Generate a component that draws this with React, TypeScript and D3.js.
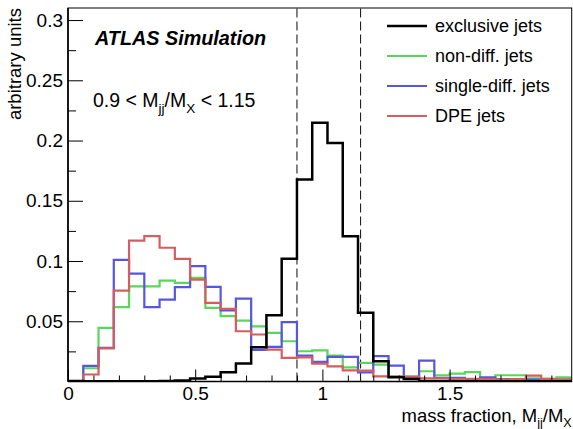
import React, { useEffect, useRef } from 'react';
import * as d3 from 'd3';

// 33 bins of width 0.06 from 0 to 1.98
const binWidth = 0.06;
const exclusiveJets = [
  0.0004, 0.0003, 0.0003, 0.0003, 0.0003, 0.0003, 0.0005, 0.0008, 0.0025, 0.0039,
  0.0077, 0.015, 0.0284, 0.055, 0.1018, 0.1677, 0.2148, 0.198, 0.1206, 0.057,
  0.0168, 0.0035, 0.002, 0.0005, 0.0005, 0.0003, 0.0003, 0.0003, 0.0003, 0.0003,
  0.0003, 0.0003, 0.0003,
];
const nonDiffJets = [
  0, 0.011, 0.0445, 0.0617, 0.079, 0.079, 0.0838, 0.0819, 0.086, 0.0611,
  0.0542, 0.0506, 0.0458, 0.0403, 0.0334, 0.0251, 0.0259, 0.0215, 0.0118, 0.0154,
  0.014, 0.0043, 0.004, 0.0085, 0.0052, 0.0066, 0.0077, 0.0027, 0.0052, 0.0052,
  0.0027, 0.0024, 0.0035,
];
const singleDiffJets = [
  0, 0.013, 0.028, 0.101, 0.0896, 0.0617, 0.068, 0.0783, 0.0957, 0.0786,
  0.0591, 0.0688, 0.0262, 0.0287, 0.0492, 0.0215, 0.0163, 0.0204, 0.0204, 0.0075,
  0.021, 0.0132, 0.003, 0.0174, 0.003, 0.003, 0.002, 0.0035, 0.002, 0.002,
  0.0015, 0.0015, 0.0015,
];
const dpeJets = [
  0, 0.0058, 0.0275, 0.0755, 0.117, 0.1206, 0.111, 0.1018, 0.0846, 0.0653,
  0.0603, 0.0417, 0.039, 0.0265, 0.0196, 0.0201, 0.0149, 0.0126, 0.0093, 0.009,
  0.0043, 0.004, 0.004, 0.0027, 0.0027, 0.002, 0.0023, 0.002, 0.0015, 0.002,
  0.0049, 0.002, 0.0015,
];

const xTicks = [0, 0.5, 1, 1.5];
const yTicks = [0.05, 0.1, 0.15, 0.2, 0.25, 0.3];
const cuts = [0.9, 1.15];

const series = [
  { name: 'exclusive jets', values: exclusiveJets, color: '#000000', width: 2.5 },
  { name: 'non-diff. jets', values: nonDiffJets, color: '#5ad65a', width: 2.2 },
  { name: 'single-diff. jets', values: singleDiffJets, color: '#5656e0', width: 2.2 },
  { name: 'DPE jets', values: dpeJets, color: '#d65c5f', width: 2.2 },
];

const FONT = "'Liberation Sans', Arial, Helvetica, sans-serif";

export default function App() {
  const ref = useRef<SVGSVGElement>(null);

  useEffect(() => {
    const svg = d3.select(ref.current);
    svg.selectAll('*').remove();

    const left = 68, right = 571.7, top = 8, bottom = 381.5;
    const nBins = exclusiveJets.length;

    const x = d3.scaleLinear().domain([0, nBins * binWidth]).range([left, right]);
    const y = d3.scaleLinear().domain([0, 0.31]).range([bottom, top]);

    svg.append('defs').append('clipPath').attr('id', 'plot-clip')
      .append('rect')
      .attr('x', left).attr('y', top)
      .attr('width', right - left).attr('height', bottom - top);

    // dashed cut lines
    svg.selectAll('.cut').data(cuts).enter().append('line')
      .attr('class', 'cut')
      .attr('x1', d => x(d)).attr('x2', d => x(d))
      .attr('y1', bottom).attr('y2', top)
      .attr('stroke', '#222')
      .attr('stroke-width', 1.1)
      .attr('stroke-dasharray', '9,4');

    // histograms, drawn so black ends up on top
    const line = d3.line<[number, number]>()
      .x(d => x(d[0]))
      .y(d => y(d[1]))
      .curve(d3.curveStepAfter);

    const drawOrder = [series[1], series[2], series[3], series[0]];
    drawOrder.forEach(s => {
      const pts: [number, number][] = s.values.map((v, i) => [i * binWidth, v]);
      pts.push([nBins * binWidth, s.values[nBins - 1]]);
      svg.append('path')
        .attr('d', line(pts))
        .attr('fill', 'none')
        .attr('stroke', s.color)
        .attr('stroke-width', s.width)
        .attr('stroke-linejoin', 'miter')
        .attr('clip-path', 'url(#plot-clip)');
    });

    // axes: minor + major ticks pointing inward
    const minorX = d3.range(1, 20).map(i => i / 10).filter(v => Math.abs(v * 2 - Math.round(v * 2)) > 1e-6);
    const minorY = d3.range(0, 12).map(i => 0.025 + i * 0.05);

    const styleAxis = (g: any) => {
      g.select('.domain').remove();
      g.selectAll('line').attr('stroke', '#000').attr('stroke-width', 1);
      g.selectAll('text').attr('font-family', FONT).attr('font-size', 19).attr('fill', '#000');
    };

    svg.append('g').attr('transform', `translate(0,${bottom})`)
      .call(d3.axisBottom(x).tickValues(minorX).tickSize(-6).tickFormat(() => ''))
      .call(styleAxis);
    svg.append('g').attr('transform', `translate(0,${bottom})`)
      .call(d3.axisBottom(x).tickValues(xTicks).tickSize(-12).tickPadding(5.5).tickFormat(d => String(d)))
      .call(styleAxis);
    svg.append('g').attr('transform', `translate(${left},0)`)
      .call(d3.axisLeft(y).tickValues(minorY).tickSize(-8).tickFormat(() => ''))
      .call(styleAxis);
    svg.append('g').attr('transform', `translate(${left},0)`)
      .call(d3.axisLeft(y).tickValues(yTicks).tickSize(-15).tickPadding(5).tickFormat(d => String(d)))
      .call(styleAxis);

    // frame
    svg.append('rect')
      .attr('x', left).attr('y', top)
      .attr('width', right - left).attr('height', bottom - top)
      .attr('fill', 'none').attr('stroke', '#000').attr('stroke-width', 1);
    svg.append('line')
      .attr('x1', left).attr('x2', left).attr('y1', top).attr('y2', bottom)
      .attr('stroke', '#000').attr('stroke-width', 1.6);
    svg.append('line')
      .attr('x1', left).attr('x2', right).attr('y1', bottom).attr('y2', bottom)
      .attr('stroke', '#000').attr('stroke-width', 1.6);

    // axis titles
    const xt = svg.append('text')
      .attr('x', right).attr('y', 422)
      .attr('text-anchor', 'end')
      .attr('font-family', FONT).attr('font-size', 18.5);
    xt.append('tspan').text('mass fraction, M');
    xt.append('tspan').attr('font-size', 12.5).attr('dy', 4.5).text('jj');
    xt.append('tspan').attr('dy', -4.5).text('/M');
    xt.append('tspan').attr('font-size', 12.5).attr('dy', 4.5).text('X');

    svg.append('text')
      .attr('transform', 'translate(21,8) rotate(-90)')
      .attr('text-anchor', 'end')
      .attr('font-family', FONT).attr('font-size', 18.5)
      .text('arbitrary units');

    // labels
    svg.append('text')
      .attr('x', 95).attr('y', 45)
      .attr('font-family', FONT).attr('font-size', 19.8)
      .attr('font-weight', 'bold').attr('font-style', 'italic')
      .text('ATLAS Simulation');

    const rl = svg.append('text')
      .attr('x', 93).attr('y', 107)
      .attr('font-family', FONT).attr('font-size', 19.5);
    rl.append('tspan').text('0.9 < M');
    rl.append('tspan').attr('font-size', 13.5).attr('dy', 6).text('jj');
    rl.append('tspan').attr('dy', -6).text('/M');
    rl.append('tspan').attr('font-size', 13.5).attr('dy', 6).text('X');
    rl.append('tspan').attr('dy', -6).text(' < 1.15');

    // legend
    const lg = svg.selectAll('.legend').data(series).enter().append('g')
      .attr('class', 'legend')
      .attr('transform', (d, i) => `translate(387,${26 + i * 30})`);
    lg.append('line')
      .attr('x1', 0).attr('x2', 40).attr('y1', 0).attr('y2', 0)
      .attr('stroke', d => d.color).attr('stroke-width', d => d.width);
    lg.append('text')
      .attr('x', 48).attr('y', 0).attr('dy', '0.35em')
      .attr('font-family', FONT).attr('font-size', 18)
      .text(d => d.name);
  }, []);

  return (
    <svg
      ref={ref}
      width={573}
      height={429}
      style={{ position: 'absolute', left: 0, top: 0, background: '#fff' }}
    />
  );
}
